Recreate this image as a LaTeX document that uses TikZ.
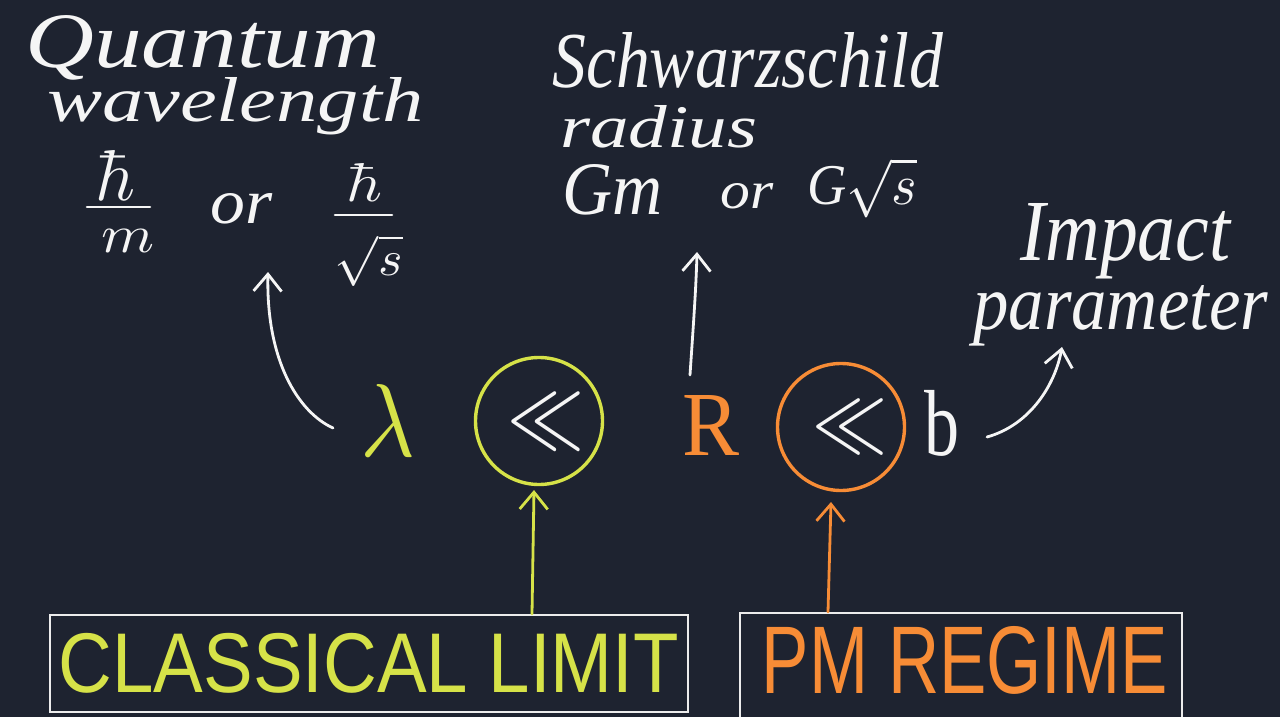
\documentclass[tikz,border=0pt]{standalone}
\usepackage{fontspec}
\usepackage{graphicx}
\usetikzlibrary{arrows.meta}
\newfontfamily\hand{Liberation Serif}
\newfontfamily\caps{Liberation Sans}
\definecolor{bg}{RGB}{30,35,48}
\definecolor{lime}{RGB}{214,226,72}
\definecolor{orng}{RGB}{247,140,54}
\definecolor{chalk}{RGB}{245,245,245}
\newcommand{\wb}[3]{\resizebox{#1pt}{#2pt}{#3}}
\newcommand{\wc}[3]{\resizebox*{#1pt}{#2pt}{#3}}
\tikzset{
  word/.style={anchor=base west, inner sep=0pt, text=chalk, font=\hand\itshape},
  sym/.style={anchor=center, inner sep=0pt, text=chalk},
  ring/.style={circle, draw=#1, line width=3.4pt, minimum size=127pt, inner sep=0pt},
  framebox/.style={draw=chalk!92!gray, line width=2.6pt, inner sep=0pt},
  bar/.style={draw=chalk, line width=2.6pt, line cap=round},
  arr/.style={draw=chalk, line width=2.8pt, line cap=round,
    -{Straight Barb[length=17pt,width=28pt]}}
}
\begin{document}
\begin{tikzpicture}[x=1pt,y=-1pt]
\fill[bg] (0,0) rectangle (1280,717);
\useasboundingbox (0,0) rectangle (1280,717);

% quantum wavelength
\node[word] (quantum) at (25,68) {\wb{355}{52}{Quantum}};
\node[word] (wavelength) at (47,121) {\wb{376}{44}{wavelength}};
\node[sym] (hbar1) at (116,175) {\wc{40}{50}{$\hbar$}};
\coordinate (bar1a) at (87,207); \coordinate (bar1b) at (150,207);
\draw[bar] (bar1a) -- (bar1b);
\node[sym] (m1) at (128,241) {\wc{53}{23}{$m$}};
\node[word] (or1) at (210,223) {\wb{62}{30}{or}};
\node[sym] (hbar2) at (365,182) {\wc{36}{38}{$\hbar$}};
\coordinate (bar2a) at (335,215); \coordinate (bar2b) at (392,215);
\draw[bar] (bar2a) -- (bar2b);
\node[sym] (sqs1) at (369,261) {\wc{68}{52}{$\sqrt{s}$}};

% schwarzschild radius
\node[word] (schw) at (552,88) {\wb{391}{55}{Schwarzschild}};
\node[word] (radius) at (560,147) {\wb{197}{42}{radius}};
\node[word] (gm) at (562,214) {\wb{100}{50}{Gm}};
\node[word] (or2) at (720,208) {\wb{53}{25}{or}};
\node[sym] (gsqs) at (862,188) {\wc{110}{60}{{\hand\itshape G}$\sqrt{s}$}};

% impact parameter
\node[word] (impact) at (1020,260) {\wb{210}{57}{Impact}};
\node[word] (param) at (973,329) {\wb{295}{44}{parameter}};

% inequality
\node[sym, text=lime] (lam) at (388,420) {\wc{55}{72}{$\lambda$}};
\node[ring=lime] (c1) at (539,421) {};
\node[sym] (ll1) at (546,422) {\wc{77}{55}{$\ll$}};
\node[sym, text=orng] (R) at (711,425) {\wc{57}{60}{\hand R}};
\node[ring=orng] (c2) at (841,427) {};
\node[sym] (ll2) at (850,427) {\wc{75}{52}{$\ll$}};
\node[sym] (b) at (942,423) {\wc{35}{66}{\hand b}};

% boxes
\node[framebox, minimum width=638pt, minimum height=97pt, text=lime, font=\caps] (box1) at (369,663.5) {\wc{620}{60}{CLASSICAL LIMIT}};
\node[framebox, minimum width=442pt, minimum height=107pt] (box2) at (961,666.5) {};
\node[sym, text=orng, font=\caps] (pm) at (965,660) {\wc{406}{68}{PM REGIME}};

% arrows
\coordinate (la0) at (333,428); \coordinate (la1) at (268,272);
\draw[arr] (la0) .. controls (298,412) and (266,360) .. (la1);
\coordinate (ma0) at (690,375); \coordinate (ma1) at (697,252);
\draw[arr] (ma0) .. controls (693,330) and (696,290) .. (ma1);
\coordinate (ra0) at (987,437); \coordinate (ra1) at (1062,347);
\draw[arr] (ra0) .. controls (1030,425) and (1055,385) .. (ra1);
\coordinate (ya0) at (532,614); \coordinate (ya1) at (534,490);
\draw[arr, draw=lime] (ya0) -- (ya1);
\coordinate (oa0) at (828,612); \coordinate (oa1) at (831,502);
\draw[arr, draw=orng] (oa0) -- (oa1);
\end{tikzpicture}
\end{document}
